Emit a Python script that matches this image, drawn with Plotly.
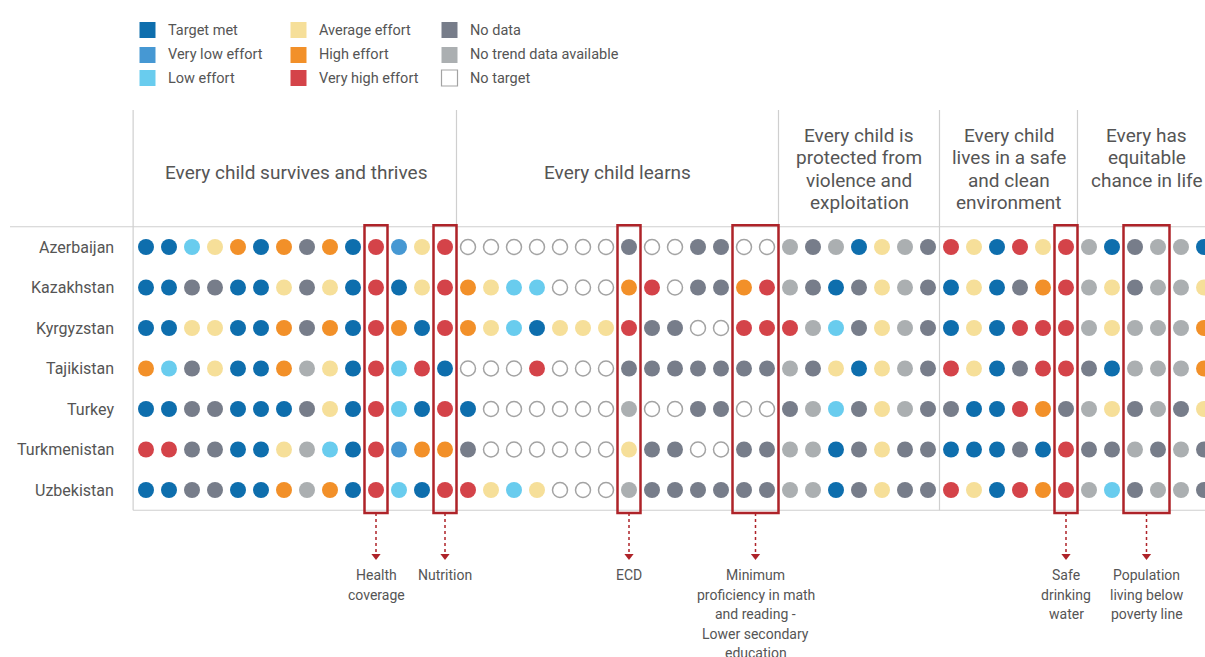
import plotly.graph_objects as go

# ---------------- data ----------------
countries = ["Azerbaijan", "Kazakhstan", "Kyrgyzstan", "Tajikistan",
             "Turkey", "Turkmenistan", "Uzbekistan"]

status_codes = ["T", "VL", "L", "A", "H", "VH", "N", "NT", "O"]
status_labels = ["Target met", "Very low effort", "Low effort",
                 "Average effort", "High effort", "Very high effort",
                 "No data", "No trend data available", "No target"]
status_colors = ["#0E6EAD", "#4698D3", "#69CCEE", "#F6DF99", "#F29029",
                 "#D44349", "#777D8A", "#ABAFB1", "#FFFFFF"]

sections = ["Every child survives and thrives",
            "Every child learns",
            "Every child is<br>protected from<br>violence and<br>exploitation",
            "Every child<br>lives in a safe<br>and clean<br>environment",
            "Every has<br>equitable<br>chance in life"]
section_sizes = [14, 14, 7, 6, 6]

# status of each indicator (columns left to right) per country
azerbaijan = ["T", "T", "L", "A", "H", "T", "H", "N", "H", "T", "VH", "VL", "A", "VH",
              "O", "O", "O", "O", "O", "O", "O", "N", "O", "O", "N", "N", "O", "O",
              "NT", "N", "NT", "T", "A", "NT", "N",
              "VH", "A", "T", "VH", "A", "VH",
              "NT", "T", "N", "NT", "NT", "T"]
kazakhstan = ["T", "T", "N", "N", "T", "T", "A", "N", "A", "T", "VH", "T", "A", "VH",
              "H", "A", "L", "L", "O", "O", "O", "H", "VH", "O", "N", "N", "H", "VH",
              "NT", "N", "T", "N", "A", "NT", "N",
              "T", "A", "T", "N", "H", "VH",
              "NT", "A", "N", "NT", "NT", "A"]
kyrgyzstan = ["T", "T", "A", "A", "T", "T", "H", "N", "H", "T", "VH", "H", "T", "VH",
              "H", "A", "L", "T", "A", "A", "A", "VH", "N", "N", "O", "O", "VH", "VH",
              "VH", "NT", "L", "N", "A", "NT", "N",
              "T", "A", "T", "VH", "VH", "VH",
              "NT", "A", "NT", "NT", "NT", "H"]
tajikistan = ["H", "L", "N", "A", "T", "T", "H", "NT", "A", "T", "VH", "L", "VH", "T",
              "O", "O", "O", "VH", "O", "O", "O", "N", "N", "N", "N", "N", "N", "N",
              "NT", "N", "A", "T", "A", "NT", "N",
              "VH", "A", "T", "N", "VH", "VH",
              "N", "T", "NT", "NT", "NT", "H"]
turkey = ["T", "T", "N", "N", "T", "T", "T", "N", "A", "T", "VH", "L", "T", "VH",
          "T", "O", "O", "O", "O", "O", "O", "NT", "O", "O", "N", "N", "O", "O",
          "N", "NT", "L", "N", "A", "NT", "N",
          "N", "T", "T", "VH", "H", "N",
          "NT", "A", "N", "NT", "N", "A"]
turkmenistan = ["VH", "VH", "N", "N", "T", "T", "A", "NT", "L", "T", "VH", "VL", "H", "H",
                "N", "O", "O", "O", "O", "O", "O", "A", "N", "N", "O", "O", "N", "N",
                "NT", "NT", "T", "N", "A", "N", "N",
                "T", "T", "T", "N", "T", "VH",
                "N", "N", "NT", "N", "NT", "N"]
uzbekistan = ["T", "T", "N", "N", "T", "T", "H", "NT", "H", "T", "VH", "L", "T", "VH",
              "VH", "A", "L", "A", "O", "O", "O", "NT", "N", "N", "N", "N", "N", "N",
              "NT", "NT", "T", "N", "A", "N", "N",
              "VH", "A", "T", "VH", "H", "VH",
              "NT", "L", "N", "NT", "NT", "N"]
rows = [azerbaijan, kazakhstan, kyrgyzstan, tajikistan, turkey, turkmenistan, uzbekistan]

highlight_labels = ["Health<br>coverage", "Nutrition", "ECD",
                    "Minimum<br>proficiency in math<br>and reading -<br>Lower secondary<br>education",
                    "Safe<br>drinking<br>water",
                    "Population<br>living below<br>poverty line"]
highlight_cols = [[10], [13], [21], [26, 27], [40], [43, 44]]

# ---------------- layout helpers ----------------
W, H = 1205, 657
X0, DX = 146.0, 23.0   # pixel of column 0, column step
Y0, DY = 247.0, 40.5   # pixel of row 0, row step
TXT = "#555555"
LINE = "#CFCFCF"
RED = "#AE2329"
FONT = "Roboto"


def px(x):
    """pixel x -> paper fraction"""
    return x / W


def py(y):
    """pixel y -> paper fraction"""
    return 1 - y / H


def ry(y):
    """pixel y -> row coordinate"""
    return (y - Y0) / DY


fig = go.Figure()

# dots, one trace per status
for code, label, color in zip(status_codes, status_labels, status_colors):
    xs, ys = [], []
    for r, row in enumerate(rows):
        for c, s in enumerate(row):
            if s == code:
                xs.append(c)
                ys.append(r)
    if code == "O":
        marker = dict(size=15, color="#FFFFFF", line=dict(width=1.5, color="#A3A3A3"))
    else:
        marker = dict(size=16, color=color, line=dict(width=0))
    fig.add_trace(go.Scatter(x=xs, y=ys, mode="markers", marker=marker,
                             name=label, showlegend=False, hoverinfo="skip",
                             cliponaxis=False))

shapes = []
annotations = []
n_rows = len(countries)

# table lines
shapes.append(dict(type="line", xref="paper", yref="y", x0=px(10), x1=1,
                   y0=-0.5, y1=-0.5, line=dict(color=LINE, width=1.2)))
shapes.append(dict(type="line", xref="x", yref="y", x0=-0.56, x1=60,
                   y0=n_rows - 0.5, y1=n_rows - 0.5, line=dict(color=LINE, width=1.2)))
bounds = [-0.56]
start = -0.5
for n in section_sizes:
    start += n
    bounds.append(start)
for b in bounds[:-1]:
    shapes.append(dict(type="line", xref="x", yref="y", x0=b, x1=b,
                       y0=ry(110), y1=n_rows - 0.5,
                       line=dict(color=LINE, width=1.2)))

# section headers (one annotation per line for exact line spacing)
start = -0.5
for title, n in zip(sections, section_sizes):
    cx = start + n / 2
    lines = title.split("<br>")
    if len(lines) == 1:
        ys = [172]
    else:
        ys = [135 + 22.5 * k for k in range(len(lines))]
    for txt, yy in zip(lines, ys):
        annotations.append(dict(x=cx, y=ry(yy), xref="x", yref="y",
                                text=txt, showarrow=False, xanchor="center",
                                yanchor="middle", font=dict(size=19, color=TXT, family=FONT)))
    start += n

# country labels
for r, name in enumerate(countries):
    annotations.append(dict(x=px(116), y=r, xref="paper", yref="y", text=name,
                            showarrow=False, xanchor="right", yanchor="middle",
                            font=dict(size=16, color=TXT, family=FONT)))

# highlight boxes, arrows, labels
arrow_x = []
for cols, label in zip(highlight_cols, highlight_labels):
    x0, x1 = min(cols) - 0.5, max(cols) + 0.5
    shapes.append(dict(type="rect", xref="x", yref="y", x0=x0, x1=x1,
                       y0=-0.54, y1=n_rows - 0.43,
                       line=dict(color=RED, width=2.5)))
    cx = (x0 + x1) / 2
    arrow_x.append(cx)
    shapes.append(dict(type="line", xref="x", yref="y", x0=cx, x1=cx,
                       y0=n_rows - 0.43, y1=ry(553),
                       line=dict(color=RED, width=1.5, dash="dot")))
    for k, txt in enumerate(label.split("<br>")):
        annotations.append(dict(x=cx, y=ry(575 + 19.5 * k), xref="x", yref="y",
                                text=txt, showarrow=False, xanchor="center",
                                yanchor="middle", font=dict(size=14, color=TXT, family=FONT)))

fig.add_trace(go.Scatter(x=arrow_x, y=[ry(556)] * len(arrow_x),
                         mode="markers", showlegend=False, hoverinfo="skip",
                         marker=dict(symbol="triangle-down", size=8, color=RED),
                         cliponaxis=False))

# legend (3 columns x 3 rows)
leg_x = [147.5, 298.5, 449.5]
leg_y = [30, 55, 78]
for i, (label, color) in enumerate(zip(status_labels, status_colors)):
    col, row = i // 3, i % 3
    cx, cy = leg_x[col], leg_y[row]
    line = dict(color="#A3A3A3", width=1.2) if color == "#FFFFFF" else dict(width=0)
    shapes.append(dict(type="rect", xref="paper", yref="paper",
                       x0=px(cx - 8), x1=px(cx + 8), y0=py(cy - 8), y1=py(cy + 8),
                       fillcolor=color, line=line))
    annotations.append(dict(x=px(cx + 18), y=py(cy), xref="paper", yref="paper",
                            text=label, showarrow=False, xanchor="left",
                            yanchor="middle", font=dict(size=14.5, color=TXT, family=FONT)))

fig.update_layout(
    width=W, height=H, autosize=False,
    margin=dict(l=0, r=0, t=0, b=0, pad=0),
    paper_bgcolor="white", plot_bgcolor="white",
    xaxis=dict(range=[-X0 / DX, (W - X0) / DX], visible=False, fixedrange=True),
    yaxis=dict(range=[(H - Y0) / DY, -Y0 / DY], visible=False, fixedrange=True),
    shapes=shapes, annotations=annotations,
    font=dict(family=FONT, color=TXT),
)

fig.write_html("out.html",
               config={"displayModeBar": False, "staticPlot": True},
               post_script="document.body.style.margin='0';"
                           "document.body.style.overflow='hidden';")
